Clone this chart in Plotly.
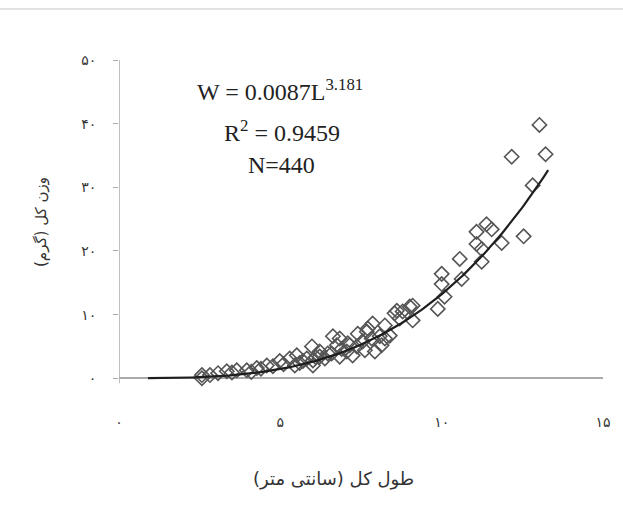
import numpy as np
import plotly.graph_objects as go

length_cm = [2.57, 2.57, 2.82, 3.07, 3.34, 3.65, 3.96, 4.27, 4.58, 4.77, 4.98, 5.29,
             5.51, 5.70, 5.45, 5.82, 6.01, 5.98, 6.01, 6.22, 6.22, 6.38, 6.47, 6.63,
             6.75, 6.59, 6.84, 6.84, 7.06, 7.09, 7.15, 7.24, 7.37, 7.40, 7.55, 7.62,
             7.68, 7.71, 7.83, 7.93, 7.86, 8.08, 8.14, 8.24, 8.24, 8.39, 8.54, 8.61,
             8.70, 8.79, 9.01, 9.10, 9.10, 9.88, 10.09, 10.00, 10.00, 10.56, 10.62,
             11.08, 11.08, 11.24, 11.24, 11.39, 11.55, 11.86, 12.54, 12.17, 13.03,
             13.22, 12.82, 4.10, 4.40, 5.10, 3.50, 5.60, 6.10, 6.90]
weight_g = [0.0, 0.5, 0.5, 0.8, 1.1, 1.25, 1.25, 1.6, 2.0, 1.9, 2.7, 3.1,
            3.6, 2.7, 2.0, 3.1, 2.0, 5.0, 2.8, 4.2, 3.4, 3.1, 3.9, 6.6,
            5.2, 3.9, 3.4, 6.25, 4.2, 5.5, 5.2, 3.6, 5.0, 7.0, 5.8, 4.4,
            7.3, 7.8, 6.25, 4.2, 8.6, 6.6, 5.2, 6.25, 8.3, 6.7, 10.2, 10.6,
            9.4, 10.5, 11.25, 9.1, 11.4, 10.9, 12.8, 14.8, 16.4, 18.75, 15.6,
            23.0, 21.1, 20.3, 18.3, 24.2, 23.4, 21.25, 22.3, 34.8, 39.8,
            35.2, 30.3, 1.0, 1.5, 2.2, 0.9, 2.4, 3.3, 4.6]

# Fitted length-weight relation W = a * L^b (given on the chart)
coef_a = 0.0087
coef_b = 3.181
fit_start, fit_end = 0.9, 13.3

x_tick_vals = [0, 5, 10, 15]
x_tick_text = ["۰", "۵", "۱۰", "۱۵"]
y_tick_vals = [0, 10, 20, 30, 40, 50]
y_tick_text = ["۰", "۱۰", "۲۰", "۳۰", "۴۰", "۵۰"]

x_title = "طول کل (سانتی متر)"
y_title = "وزن کل (گرم)"

fit_L = np.linspace(fit_start, fit_end, 200)
fit_W = coef_a * fit_L ** coef_b

fig = go.Figure()
fig.add_trace(go.Scatter(
    x=length_cm, y=weight_g, mode="markers",
    marker=dict(symbol="diamond-open", size=11, color="#555555",
                line=dict(width=1.6, color="#555555")),
    showlegend=False,
))
fig.add_trace(go.Scatter(
    x=fit_L, y=fit_W, mode="lines",
    line=dict(color="#1e1e1e", width=2.2),
    showlegend=False,
))

persian_font = "DejaVu Sans"
serif_font = "Liberation Serif"
eq_size = 24

fig.update_layout(
    width=623, height=510,
    margin=dict(l=119, r=20, t=60, b=98),
    paper_bgcolor="white", plot_bgcolor="white",
    xaxis=dict(range=[0, 15], tickvals=x_tick_vals, ticktext=x_tick_text,
               showgrid=False, zeroline=False, showline=False, ticks="",
               automargin=False,
               tickfont=dict(family=persian_font, size=14, color="#333")),
    yaxis=dict(range=[-5.3, 50], tickvals=y_tick_vals, ticktext=y_tick_text,
               showgrid=False, zeroline=True, zerolinecolor="#aaaaaa", zerolinewidth=1.5,
               showline=False, ticks="outside", ticklen=5, tickcolor="#aaaaaa",
               ticklabelstandoff=14, automargin=False,
               tickfont=dict(family=persian_font, size=14, color="#333")),
    shapes=[
        dict(type="line", xref="x", yref="y", x0=0, x1=0, y0=-0.8, y1=50,
             line=dict(color="#aaaaaa", width=1.5)),
        dict(type="line", xref="paper", yref="paper", x0=-0.25, x1=1.05,
             y0=1.145, y1=1.145, line=dict(color="#d8d8d8", width=1.5)),
    ],
    annotations=[
        dict(text="W = 0.0087L<sup>3.181</sup>", xref="x", yref="y", x=5.0, y=45.3,
             showarrow=False, font=dict(family=serif_font, size=eq_size, color="#222")),
        dict(text="R<sup>2</sup> = 0.9459", xref="x", yref="y", x=5.05, y=38.8,
             showarrow=False, font=dict(family=serif_font, size=eq_size, color="#222")),
        dict(text="N=440", xref="x", yref="y", x=5.05, y=33.5,
             showarrow=False, font=dict(family=serif_font, size=eq_size, color="#222")),
        dict(text=x_title, xref="paper", yref="paper", x=0.444, y=-0.19,
             xanchor="center", yanchor="middle", showarrow=False,
             font=dict(family=persian_font, size=18, color="#333")),
        dict(text=y_title, xref="paper", yref="paper", x=-0.161, y=0.54,
             xanchor="center", yanchor="middle", textangle=-90, showarrow=False,
             font=dict(family=persian_font, size=15, color="#333")),
    ],
)

fig.write_html("out.html", post_script="document.body.style.margin='0';",
               config={"displayModeBar": False})
